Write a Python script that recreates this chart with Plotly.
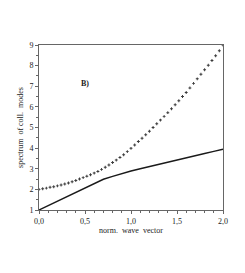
import plotly.graph_objects as go

# dotted series (upper branch), sampled every 0.04
x_dot = [round(i * 0.04, 2) for i in range(51)]
y_dot = [2.00, 2.03, 2.06, 2.10, 2.13, 2.17, 2.21, 2.26, 2.31, 2.37,
         2.43, 2.50, 2.57, 2.64, 2.71, 2.79, 2.87, 2.97, 3.07, 3.18,
         3.30, 3.42, 3.55, 3.68, 3.83, 3.99, 4.15, 4.32, 4.48, 4.65,
         4.82, 5.00, 5.18, 5.36, 5.54, 5.72, 5.91, 6.10, 6.30, 6.50,
         6.70, 6.92, 7.14, 7.36, 7.58, 7.80, 8.02, 8.25, 8.48, 8.72,
         9.00]

# solid series (lower branch)
x_sol = [0.0, 0.1, 0.2, 0.3, 0.4, 0.5, 0.6, 0.7, 0.8, 0.9, 1.0,
         1.1, 1.2, 1.3, 1.4, 1.5, 1.6, 1.7, 1.8, 1.9, 2.0]
y_sol = [1.00, 1.21, 1.42, 1.63, 1.85, 2.06, 2.28, 2.49, 2.63, 2.77, 2.89,
         3.00, 3.11, 3.21, 3.31, 3.42, 3.53, 3.63, 3.74, 3.84, 3.95]

x_ticks = [0.0, 0.5, 1.0, 1.5, 2.0]
x_tick_labels = ["0,0", "0,5", "1,0", "1,5", "2,0"]
y_ticks = [1, 2, 3, 4, 5, 6, 7, 8, 9]

font = dict(family="Liberation Serif", size=8, color="#222")

fig = go.Figure()
fig.add_trace(go.Scatter(x=x_sol, y=y_sol, mode="lines",
                         line=dict(color="#1a1a1a", width=1.4), showlegend=False))
fig.add_trace(go.Scatter(x=x_dot, y=y_dot, mode="markers",
                         marker=dict(symbol="cross", size=2.4, color="#3a3a3a",
                                     line=dict(width=0)),
                         showlegend=False))

fig.add_annotation(x=0.5, y=7.15, text="<b>B)</b>", showarrow=False,
                   font=dict(family="Liberation Serif", size=8, color="#222"))

axis_common = dict(showgrid=False, zeroline=False, showline=True, mirror=True,
                   linecolor="#666", linewidth=1, ticks="outside", ticklen=3,
                   tickcolor="#666", tickfont=font)

fig.update_xaxes(range=[0, 2], tickvals=x_ticks, ticktext=x_tick_labels,
                 title=dict(text="norm.  wave  vector", font=font, standoff=2),
                 minor=dict(ticks="outside", ticklen=2, dtick=0.1, tickcolor="#666"),
                 **axis_common)
fig.update_yaxes(range=[1, 9], tickvals=y_ticks,
                 title=dict(text="spectrum  of coll.  modes", font=font, standoff=4),
                 minor=dict(ticks="outside", ticklen=2, dtick=0.5, tickcolor="#666"),
                 **axis_common)

# page body has an 8px default margin, so the figure is offset by 8px
fig.update_layout(width=237, height=265,
                  margin=dict(l=23, r=22, t=37, b=63),
                  plot_bgcolor="white", paper_bgcolor="white")

fig.write_html("out.html")
